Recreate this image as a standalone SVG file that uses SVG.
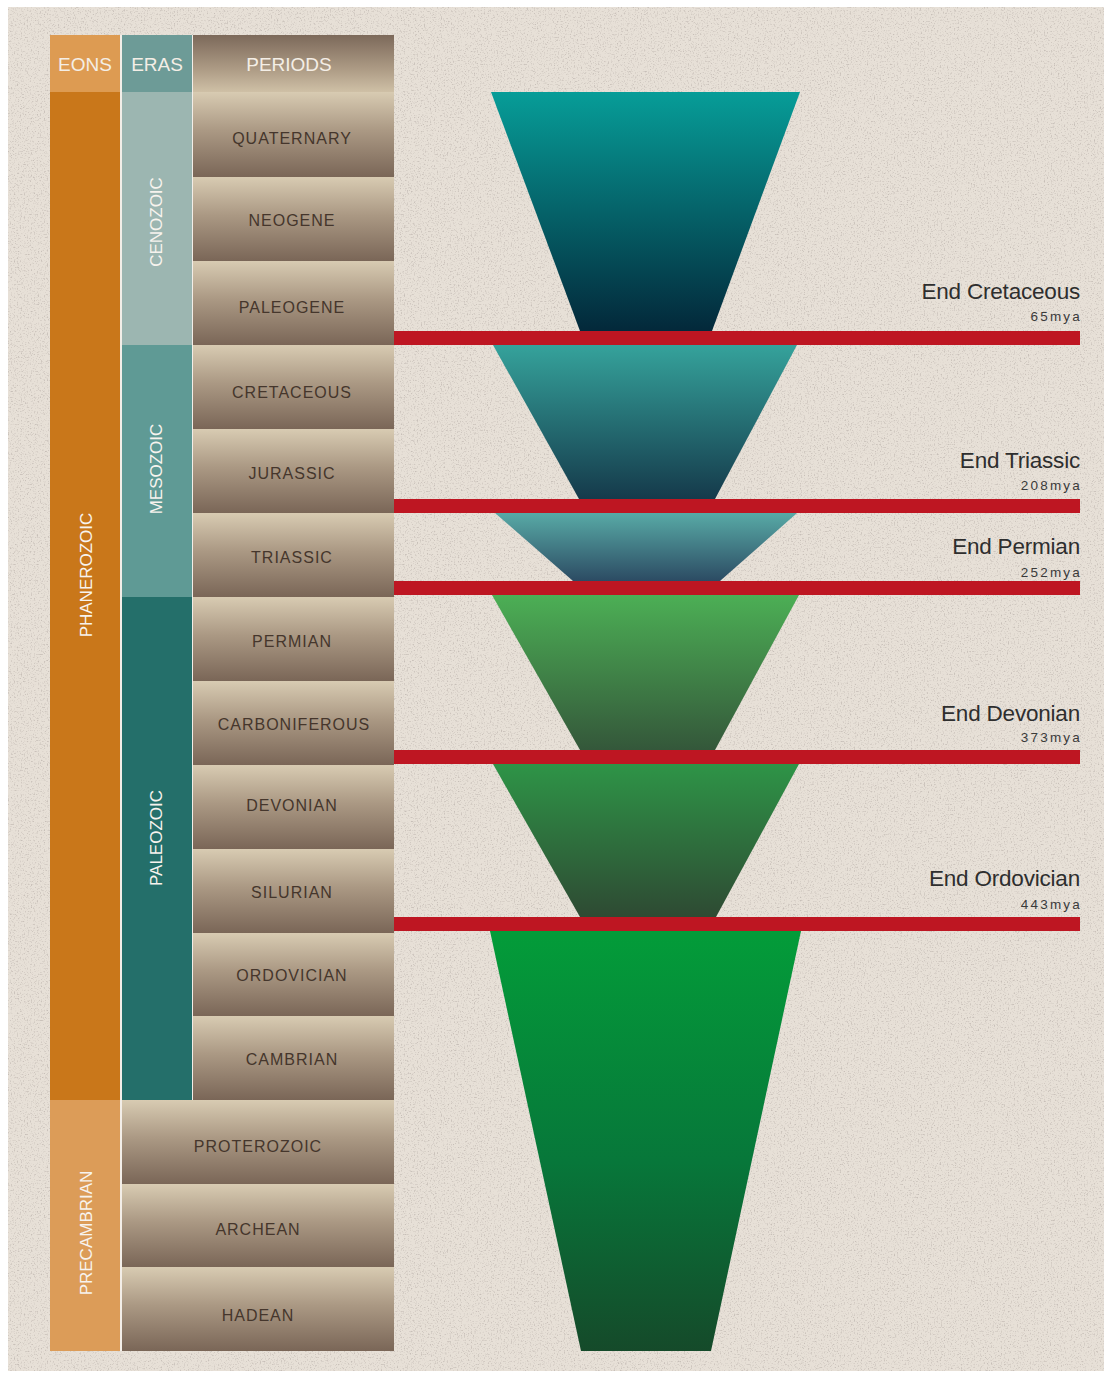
<svg xmlns="http://www.w3.org/2000/svg" width="1110" height="1374" viewBox="0 0 1110 1374">
<defs>
<style>
.hdr{font-family:"Liberation Sans",Arial,sans-serif;font-size:19px;fill:#f4eee6;text-anchor:middle}
.per{font-family:"Liberation Sans",Arial,sans-serif;font-size:16px;fill:#45362c;text-anchor:middle;letter-spacing:1px}
.vert{font-family:"Liberation Sans",Arial,sans-serif;font-size:17px;fill:#f7f3ee;text-anchor:middle}
.ev{font-family:"Liberation Sans",Arial,sans-serif;font-size:22.5px;fill:#2e2e2e;text-anchor:end;letter-spacing:-0.2px}
.mya{font-family:"Liberation Sans",Arial,sans-serif;font-size:13.5px;fill:#3a3a3a;text-anchor:end;letter-spacing:2.2px}
.bar{fill:#be1622}
.cell{fill:url(#cellG)}
.sep{fill:#f3eee8}
</style>
<linearGradient id="cellG" x1="0" y1="0" x2="0" y2="1">
<stop offset="0" stop-color="#d8cbb2"/>
<stop offset="0.45" stop-color="#ab9984"/>
<stop offset="1" stop-color="#7a6657"/>
</linearGradient>
<linearGradient id="hdrG" x1="0" y1="0" x2="0" y2="1">
<stop offset="0" stop-color="#7c695a"/>
<stop offset="0.6" stop-color="#ad9b85"/>
<stop offset="1" stop-color="#cfc0a6"/>
</linearGradient>
<linearGradient id="t1" x1="0" y1="0" x2="0" y2="1"><stop offset="0" stop-color="#079d98"/><stop offset="1" stop-color="#03283a"/></linearGradient>
<linearGradient id="t2" x1="0" y1="0" x2="0" y2="1"><stop offset="0" stop-color="#35a29b"/><stop offset="1" stop-color="#153a4b"/></linearGradient>
<linearGradient id="t3" x1="0" y1="0" x2="0" y2="1"><stop offset="0" stop-color="#58aaa6"/><stop offset="1" stop-color="#2c4b63"/></linearGradient>
<linearGradient id="t4" x1="0" y1="0" x2="0" y2="1"><stop offset="0" stop-color="#4caf55"/><stop offset="1" stop-color="#34573a"/></linearGradient>
<linearGradient id="t5" x1="0" y1="0" x2="0" y2="1"><stop offset="0" stop-color="#2e9447"/><stop offset="1" stop-color="#2e4a33"/></linearGradient>
<linearGradient id="t6" x1="0" y1="0" x2="0" y2="1"><stop offset="0" stop-color="#039c39"/><stop offset="0.55" stop-color="#07773a"/><stop offset="1" stop-color="#154a2a"/></linearGradient>
<filter id="sand" x="0" y="0" width="100%" height="100%">
<feTurbulence type="fractalNoise" baseFrequency="0.7" numOctaves="2" seed="4" result="n"/>
<feColorMatrix in="n" type="matrix" values="0 0 0 0 0.45  0 0 0 0 0.40  0 0 0 0 0.37  3.4 0 0 0 -1.8"/>
</filter>
</defs>

<rect x="0" y="0" width="1110" height="1374" fill="#ffffff"/>
<rect x="8" y="7" width="1096" height="1364" fill="#e7e0d7"/>
<rect x="8" y="7" width="1096" height="1364" filter="url(#sand)" opacity="0.6"/>

<rect class="sep" x="120" y="35" width="2" height="1316"/>
<rect class="sep" x="192" y="35" width="1" height="1065"/>

<g id="eons">
<rect x="50" y="35" width="70" height="57" fill="#dd9b52"/>
<text class="hdr" x="85" y="71">EONS</text>
<g id="phanerozoic">
<rect x="50" y="92" width="70" height="1008" fill="#c9771a"/>
<text class="vert" transform="translate(92,575) rotate(-90)">PHANEROZOIC</text>
</g>
<g id="precambrian">
<rect x="50" y="1100" width="70" height="251" fill="#dc9c58"/>
<text class="vert" transform="translate(92,1233) rotate(-90)">PRECAMBRIAN</text>
</g>
</g>

<g id="eras">
<rect x="122" y="35" width="70" height="57" fill="#6d9b97"/>
<text class="hdr" x="157" y="71">ERAS</text>
<g id="cenozoic">
<rect x="122" y="92" width="70" height="253" fill="#9cb6b1"/>
<text class="vert" transform="translate(162,222) rotate(-90)">CENOZOIC</text>
</g>
<g id="mesozoic">
<rect x="122" y="345" width="70" height="252" fill="#5f9a95"/>
<text class="vert" transform="translate(162,469) rotate(-90)">MESOZOIC</text>
</g>
<g id="paleozoic">
<rect x="122" y="597" width="70" height="503" fill="#246f6a"/>
<text class="vert" transform="translate(162,838) rotate(-90)">PALEOZOIC</text>
</g>
</g>

<g id="periods">
<g id="periods-header"><rect x="193" y="35" width="201" height="57" fill="url(#hdrG)"/><text class="hdr" x="289" y="71">PERIODS</text></g>
<g id="quaternary"><rect class="cell" x="193" y="92" width="201" height="85"/><text class="per" x="292" y="144">QUATERNARY</text></g>
<g id="neogene"><rect class="cell" x="193" y="177" width="201" height="84"/><text class="per" x="292" y="226">NEOGENE</text></g>
<g id="paleogene"><rect class="cell" x="193" y="261" width="201" height="84"/><text class="per" x="292" y="313">PALEOGENE</text></g>
<g id="cretaceous"><rect class="cell" x="193" y="345" width="201" height="84"/><text class="per" x="292" y="398">CRETACEOUS</text></g>
<g id="jurassic"><rect class="cell" x="193" y="429" width="201" height="84"/><text class="per" x="292" y="479">JURASSIC</text></g>
<g id="triassic"><rect class="cell" x="193" y="513" width="201" height="84"/><text class="per" x="292" y="563">TRIASSIC</text></g>
<g id="permian"><rect class="cell" x="193" y="597" width="201" height="84"/><text class="per" x="292" y="647">PERMIAN</text></g>
<g id="carboniferous"><rect class="cell" x="193" y="681" width="201" height="84"/><text class="per" x="294" y="730">CARBONIFEROUS</text></g>
<g id="devonian"><rect class="cell" x="193" y="765" width="201" height="84"/><text class="per" x="292" y="811">DEVONIAN</text></g>
<g id="silurian"><rect class="cell" x="193" y="849" width="201" height="84"/><text class="per" x="292" y="898">SILURIAN</text></g>
<g id="ordovician"><rect class="cell" x="193" y="933" width="201" height="83"/><text class="per" x="292" y="981">ORDOVICIAN</text></g>
<g id="cambrian"><rect class="cell" x="193" y="1016" width="201" height="84"/><text class="per" x="292" y="1065">CAMBRIAN</text></g>
<g id="proterozoic"><rect class="cell" x="122" y="1100" width="272" height="84"/><text class="per" x="258" y="1152">PROTEROZOIC</text></g>
<g id="archean"><rect class="cell" x="122" y="1184" width="272" height="83"/><text class="per" x="258" y="1235">ARCHEAN</text></g>
<g id="hadean"><rect class="cell" x="122" y="1267" width="272" height="84"/><text class="per" x="258" y="1321">HADEAN</text></g>
</g>

<g id="diversity">
<polygon id="trap1" points="491,92 800,92 712,331 580,331" fill="url(#t1)"/>
<polygon id="trap2" points="493,345 797,345 715,499 579,499" fill="url(#t2)"/>
<polygon id="trap3" points="495,513 797,513 720,581 573,581" fill="url(#t3)"/>
<polygon id="trap4" points="492,595 799,595 715,750 580,750" fill="url(#t4)"/>
<polygon id="trap5" points="493,764 799,764 716,917 580,917" fill="url(#t5)"/>
<polygon id="trap6" points="490,931 801,931 711,1351 581,1351" fill="url(#t6)"/>
</g>

<g id="connectors">
<rect class="bar" x="394" y="331" width="686" height="14"/>
<rect class="bar" x="394" y="499" width="686" height="14"/>
<rect class="bar" x="394" y="581" width="686" height="14"/>
<rect class="bar" x="394" y="750" width="686" height="14"/>
<rect class="bar" x="394" y="917" width="686" height="14"/>
</g>

<g id="labels">
<g id="end-cretaceous"><text class="ev" x="1080" y="299">End Cretaceous</text><text class="mya" x="1082" y="321">65mya</text></g>
<g id="end-triassic"><text class="ev" x="1080" y="468">End Triassic</text><text class="mya" x="1082" y="490">208mya</text></g>
<g id="end-permian"><text class="ev" x="1080" y="554">End Permian</text><text class="mya" x="1082" y="577">252mya</text></g>
<g id="end-devonian"><text class="ev" x="1080" y="721">End Devonian</text><text class="mya" x="1082" y="742">373mya</text></g>
<g id="end-ordovician"><text class="ev" x="1080" y="886">End Ordovician</text><text class="mya" x="1082" y="909">443mya</text></g>
</g>
</svg>
